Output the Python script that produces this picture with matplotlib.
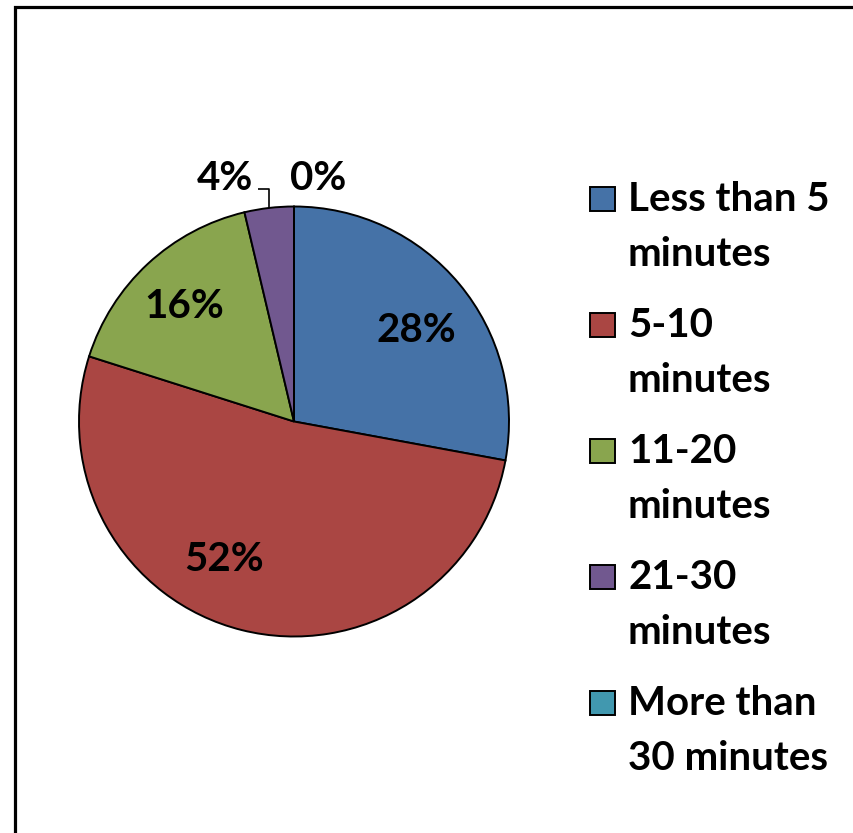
import numpy as np
import matplotlib
matplotlib.use('Agg')
import matplotlib.pyplot as plt
from matplotlib.patches import Rectangle

CATEGORIES = ['Less than 5\nminutes', '5-10\nminutes', '11-20\nminutes',
              '21-30\nminutes', 'More than\n30 minutes']
SHARES = [27.9, 52.0, 16.4, 3.7, 0.0]
PCT_LABELS = ['28%', '52%', '16%', '4%', '0%']
COLORS = ['#4572A7', '#AA4643', '#89A54E', '#71588F', '#4198AF']

W, H = 854, 833
CX, CY, R = 294, 421.5, 215
FONT = 'Lato'
FS = 29

plt.rcParams['font.family'] = [FONT, 'DejaVu Sans']


def fx(px):
    return px / W


def fy(py):
    return 1 - py / H


fig = plt.figure(figsize=(W / 100, H / 100), dpi=100)

# outer border (only left and top edges are visible in the crop)
fig.patches.append(Rectangle((fx(15), fy(H + 50)), 2, fy(7) - fy(H + 50),
                             transform=fig.transFigure, fill=False,
                             edgecolor='black', linewidth=2.3))

ax = fig.add_axes([fx(CX - R), fy(CY + R), 2 * R / W, 2 * R / H])
wedges, _ = ax.pie(SHARES, colors=COLORS, startangle=90, counterclock=False,
                   wedgeprops=dict(edgecolor='black', linewidth=1.4))
for w in wedges:
    w.set_clip_on(False)
ax.set_xlim(-1, 1)
ax.set_ylim(-1, 1)
ax.set_aspect('auto')

# percentage labels inside the big slices
label_r = [0.71, 0.72, 0.74]
label_shift = [-3, -13, 1]  # degrees, Excel-style best fit
for i in range(3):
    w = wedges[i]
    mid = np.deg2rad((w.theta1 + w.theta2) / 2 + label_shift[i])
    ax.text(label_r[i] * np.cos(mid), label_r[i] * np.sin(mid), PCT_LABELS[i],
            ha='center', va='center', fontsize=FS, fontweight='bold')

# 4% label with leader line
w = wedges[3]
mid = np.deg2rad((w.theta1 + w.theta2) / 2)
x0, y0 = np.cos(mid), np.sin(mid)
ax.plot([x0, x0, x0 - 0.05], [y0, 1.081, 1.081], color='black', lw=1.2,
        clip_on=False, solid_capstyle='butt')
ax.text(x0 - 0.075, 1.13, PCT_LABELS[3], ha='right', va='center',
        fontsize=FS, fontweight='bold')

# 0% label
ax.text(-0.02, 1.13, PCT_LABELS[4], ha='left', va='center',
        fontsize=FS, fontweight='bold')

# legend
for i, (lab, col) in enumerate(zip(CATEGORIES, COLORS)):
    base = 210 + 126 * i
    fig.patches.append(Rectangle((fx(590), fy(base + 1)), 25 / W, 24 / H,
                                 transform=fig.transFigure, facecolor=col,
                                 edgecolor='black', linewidth=1.4))
    fig.text(fx(628), fy(base - 29), lab, ha='left', va='top',
             fontsize=FS, fontweight='bold', linespacing=1.6)

fig.savefig('out.png', dpi=100)
